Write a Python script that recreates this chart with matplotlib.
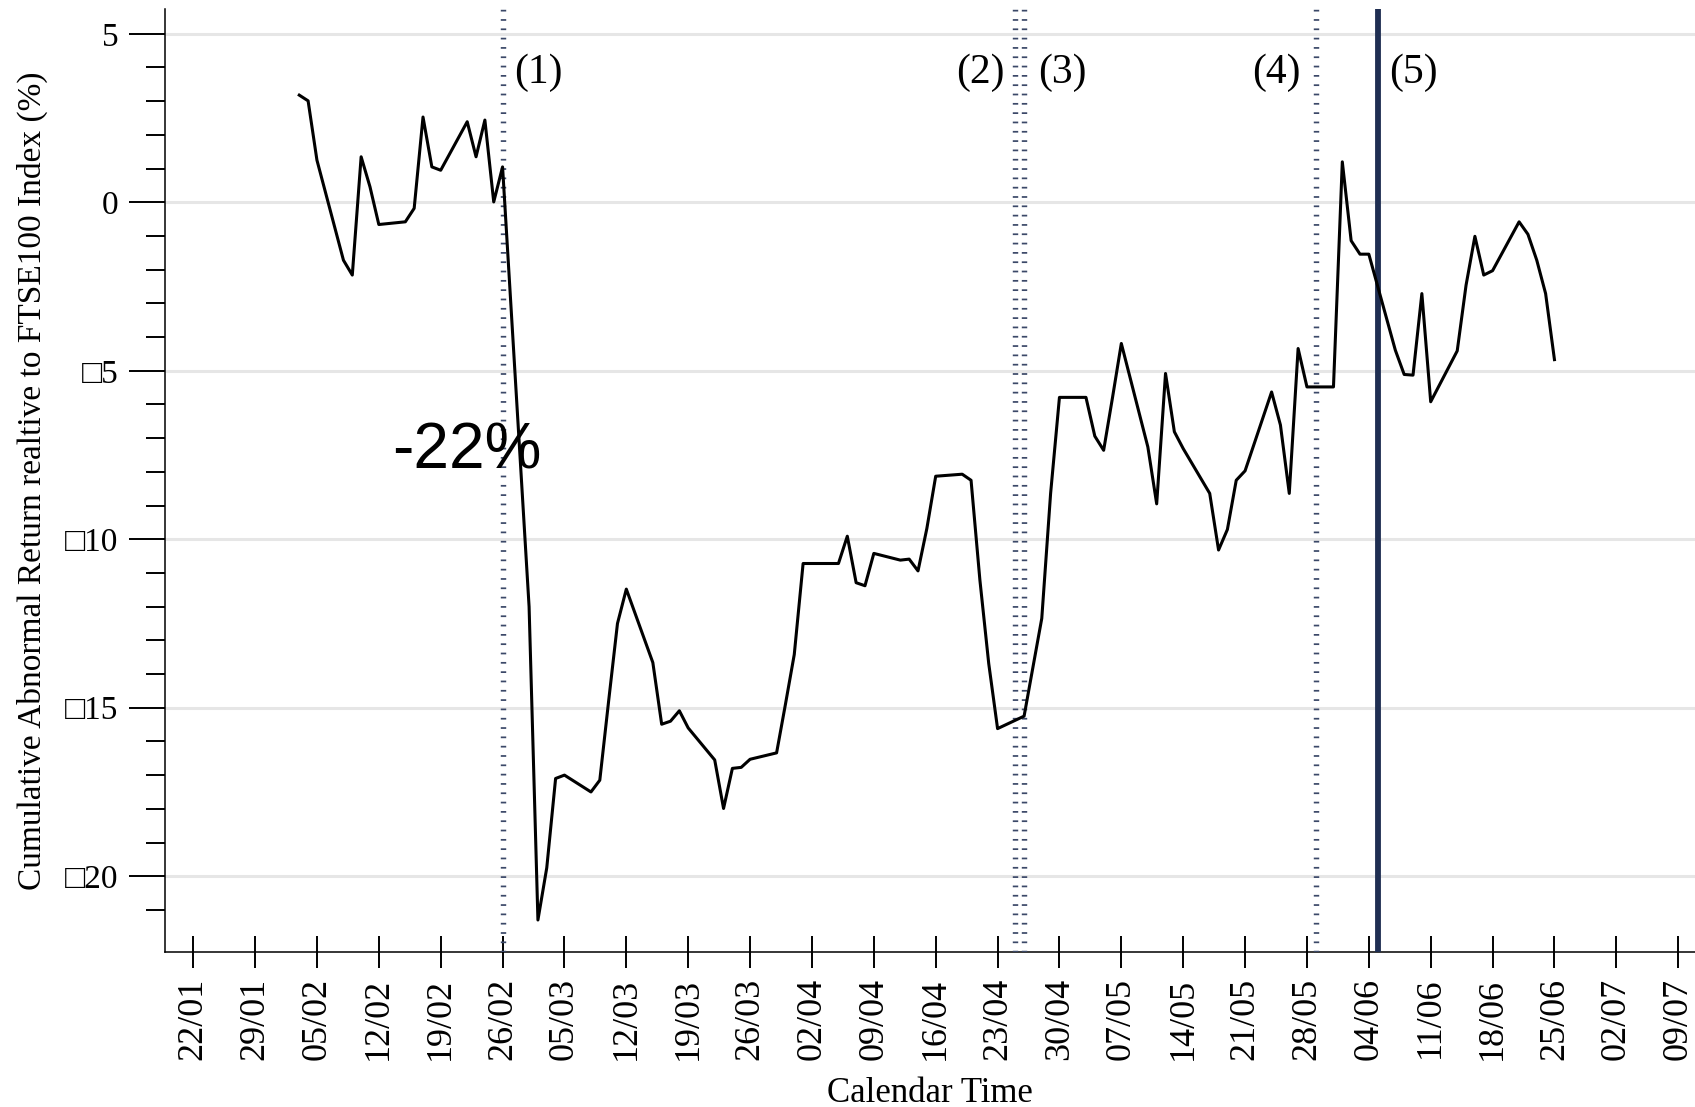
import matplotlib
matplotlib.use('Agg')
import numpy as np
import pandas as pd
import matplotlib.pyplot as plt
import matplotlib.dates as mdates
from matplotlib.ticker import FixedLocator

plt.rcParams['font.family'] = ['Liberation Serif', 'DejaVu Sans']

# cumulative abnormal return vs FTSE100 (%), trading days 2021
dates = ['03/02', '04/02', '05/02', '08/02', '09/02', '10/02', '11/02', '12/02',
         '15/02', '16/02', '17/02', '18/02', '19/02', '22/02', '23/02', '24/02',
         '25/02', '26/02', '01/03', '02/03', '03/03', '04/03', '05/03', '08/03',
         '09/03', '10/03', '11/03', '12/03', '15/03', '16/03', '17/03', '18/03',
         '19/03', '22/03', '23/03', '24/03', '25/03', '26/03', '29/03', '30/03',
         '31/03', '01/04', '02/04', '05/04', '06/04', '07/04', '08/04', '09/04',
         '12/04', '13/04', '14/04', '15/04', '16/04', '19/04', '20/04', '21/04',
         '22/04', '23/04', '26/04', '27/04', '28/04', '29/04', '30/04', '03/05',
         '04/05', '05/05', '06/05', '07/05', '10/05', '11/05', '12/05', '13/05',
         '14/05', '17/05', '18/05', '19/05', '20/05', '21/05', '24/05', '25/05',
         '26/05', '27/05', '28/05', '31/05', '01/06', '02/06', '03/06', '04/06',
         '07/06', '08/06', '09/06', '10/06', '11/06', '14/06', '15/06', '16/06',
         '17/06', '18/06', '21/06', '22/06', '23/06', '24/06', '25/06']
car = [3.18, 3.01, 1.25, -1.72, -2.16, 1.35, 0.46, -0.66,
       -0.58, -0.18, 2.53, 1.05, 0.95, 2.39, 1.35, 2.44,
       0.01, 1.05, -12.0, -21.3, -19.75, -17.1, -17.0, -17.5,
       -17.15, -14.8, -12.5, -11.48, -13.66, -15.49, -15.40, -15.09,
       -15.6, -16.55, -17.99, -16.8, -16.77, -16.53, -16.34, -14.9,
       -13.42, -10.72, -10.72, -10.72, -9.91, -11.29, -11.38, -10.42,
       -10.62, -10.59, -10.94, -9.68, -8.13, -8.07, -8.25, -11.21,
       -13.69, -15.62, -15.25, -13.8, -12.35, -8.64, -5.79, -5.79,
       -6.94, -7.36, -5.8, -4.19, -7.26, -8.95, -5.08, -6.81,
       -7.31, -8.64, -10.32, -9.71, -8.25, -7.97, -5.63, -6.61,
       -8.64, -4.34, -5.48, -5.48, 1.20, -1.14, -1.54, -1.54,
       -4.39, -5.11, -5.13, -2.71, -5.92, -4.41, -2.46, -1.01,
       -2.16, -2.03, -0.58, -0.95, -1.72, -2.71, -4.67]

event_dates = ['26/02', '25/04', '26/04', '29/05', '05/06']
event_labels = ['(1)', '(2)', '(3)', '(4)', '(5)']
drop_label = '-22%'

ytick_vals = [5, 0, -5, -10, -15, -20]
ytick_labels = ['5', '0', '\u25a15', '\u25a110', '\u25a115', '\u25a120']
yminor_vals = [v for v in range(-21, 5) if v % 5 != 0]


def to_dt(lst):
    return pd.to_datetime([s + '/2021' for s in lst], format='%d/%m/%Y')


x = to_dt(dates)
ev = to_dt(event_dates)
tick_dates = pd.date_range('2021-01-22', '2021-07-09', freq='7D')

fig = plt.figure(figsize=(16.95, 11.07), dpi=100)
ax = fig.add_axes([0.0976, 0.140, 0.9024, 0.852])

ax.yaxis.grid(True, which='major', color='#e6e6e6', linewidth=2.2)
ax.set_axisbelow(True)

# event lines
dot_style = (0, (0.32, 1.4))
for i, d in enumerate(ev):
    if i == 4:
        ax.axvline(d, color='#1f2e52', linewidth=4.2, zorder=3)
    else:
        ax.axvline(d, color='#3b4868', linewidth=3.9, linestyle=dot_style,
                   dash_capstyle='butt', zorder=3)

ax.plot(x, car, color='black', linewidth=2.2, zorder=4)

# labels next to event lines
offsets = [(8, 'left'), (-8, 'right'), (10, 'left'), (-11, 'right'), (8, 'left')]
for d, lab, (dx, ha) in zip(ev, event_labels, offsets):
    ax.annotate(lab, xy=(d, 3.85), xytext=(dx, 0), textcoords='offset points',
                ha=ha, va='center', fontsize=30)

ax.text(pd.Timestamp('2021-02-22 00:00'), -7.4, drop_label, ha='center', va='center',
        fontsize=46, family='Liberation Sans')

x0 = mdates.date2num(pd.Timestamp('2021-01-22'))
ax.set_xlim(x0 - 3.14, x0 + 169.9)
ax.set_ylim(-22.25, 5.74)

ax.xaxis.set_major_locator(FixedLocator(mdates.date2num(tick_dates)))
ax.xaxis.set_major_formatter(mdates.DateFormatter('%d/%m'))
ax.set_yticks(ytick_vals)
ax.set_yticklabels(ytick_labels)
ax.yaxis.set_minor_locator(FixedLocator(yminor_vals))

ax.tick_params(axis='x', direction='inout', length=23, width=1.4, pad=7,
               labelsize=26, labelrotation=90)
ax.tick_params(axis='y', which='major', direction='out', length=25.7, width=1.4,
               pad=8, labelsize=24)
ax.tick_params(axis='y', which='minor', direction='out', length=13.4, width=1.4)

for s in ['top', 'right']:
    ax.spines[s].set_visible(False)
for s in ['left', 'bottom']:
    ax.spines[s].set_linewidth(1.1)

ax.set_xlabel('Calendar Time', fontsize=25, labelpad=12)
ax.set_ylabel('Cumulative Abnormal Return realtive to FTSE100 Index (%)',
              fontsize=24, labelpad=12)

fig.savefig('out.png', dpi=100)
